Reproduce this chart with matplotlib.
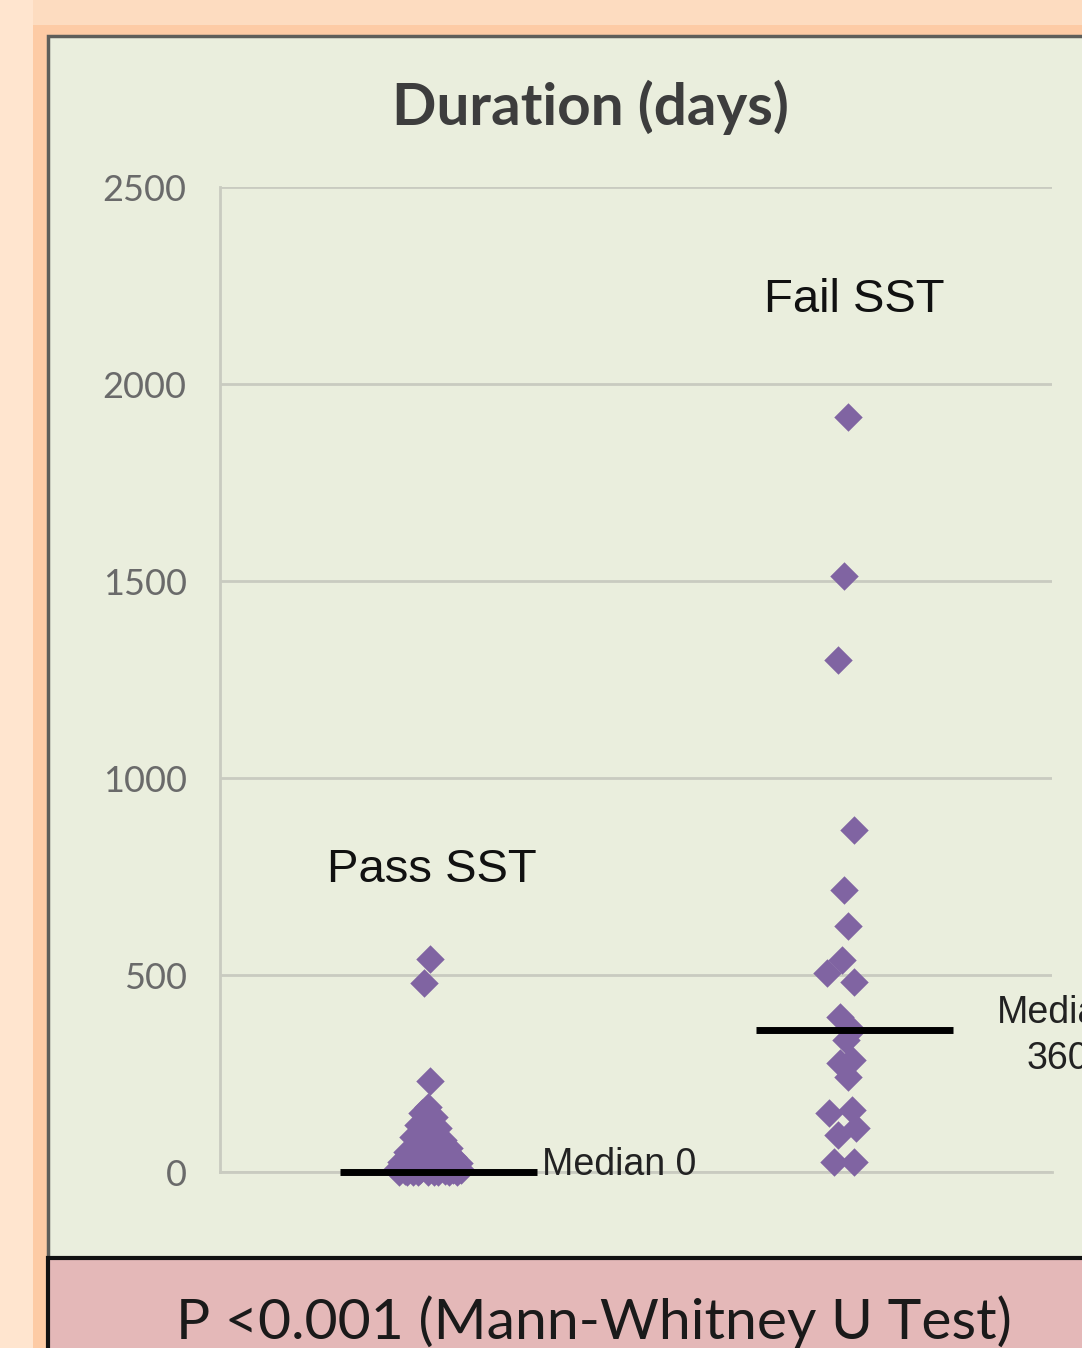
import matplotlib
matplotlib.use("Agg")
import matplotlib.pyplot as plt
from matplotlib.patches import Rectangle

# duration (days) per patient, split by SST outcome; jitter is horizontal spread in category units
pass_days = [540, 480, 230, 165, 150, 140, 128, 120, 112, 100, 95, 88, 80, 75, 68, 62, 58, 52, 48,
             42, 38, 35, 30, 26, 22, 20, 16, 12, 10, 8, 6, 5, 3, 2, 0, 0, 0, 0, 0, 0, 0, 1, 1, 4]
pass_jit = [0.01, -0.02, 0.01, 0.0, -0.03, 0.03, 0.0, -0.05, 0.05, -0.02, 0.03, -0.07, 0.07, 0.0,
            -0.04, 0.10, 0.04, -0.10, -0.02, 0.08, 0.12, -0.06, 0.02, -0.13, 0.15, 0.06, -0.09, 0.0,
            0.11, -0.15, 0.16, -0.04, 0.08, -0.11, 0.0, 0.05, -0.05, 0.10, -0.10, 0.14, -0.14, 0.03,
            -0.07, 0.12]
fail_days = [1915, 1512, 1300, 868, 716, 624, 538, 505, 482, 393, 360, 335, 284, 277, 241, 157,
             150, 112, 94, 25, 25]
fail_jit = [0.02, 0.0, -0.03, 0.05, 0.0, 0.02, -0.01, -0.08, 0.05, -0.02, 0.04, 0.01, 0.04, -0.02,
            0.02, 0.04, -0.07, 0.06, -0.03, -0.05, 0.05]
groups = ["Pass SST", "Fail SST"]
group_x = [1, 3]
medians = [0, 360]
yticks = [0, 500, 1000, 1500, 2000, 2500]

W, H = 1082, 1348
fig = plt.figure(figsize=(W / 100, H / 100), dpi=100)
fig.patch.set_facecolor("#fddcc0")

def box(x0, y0, x1, y1, **kw):
    # rectangle given in pixel coords from the top-left corner, drawn under the axes
    fig.add_artist(Rectangle((x0 / W, 1 - y1 / H), (x1 - x0) / W, (y1 - y0) / H,
                             transform=fig.transFigure, zorder=-5, **kw))

box(0, 0, 33, H, facecolor="#ffe5cf", edgecolor="none")
box(33, 25, W + 10, H + 10, facecolor="#fdcba5", edgecolor="none")
box(48, 36, W + 20, 1258, facecolor="#eaeedd", edgecolor="#5e5e5a", linewidth=2.5)
box(48, 1258, W + 20, H + 20, facecolor="#e4b8b8", edgecolor="#111111", linewidth=3)

ax = fig.add_axes([220 / W, 1 - 1172 / H, (1052 - 220) / W, (1172 - 187) / H])
ax.set_facecolor("none")
ax.set_xlim(0, 4)
ax.set_ylim(0, 2500)

ax.set_yticks(yticks)
ax.set_yticklabels([str(t) for t in yticks], family="Lato", fontsize=26, color="#6a6a6a")
ax.set_xticks([])
ax.tick_params(axis="y", length=0, pad=24)
ax.grid(axis="y", color="#c9cbc0", lw=2)
ax.set_axisbelow(True)
for s in ["top", "right"]:
    ax.spines[s].set_visible(False)
for s in ["left", "bottom"]:
    ax.spines[s].set_color("#c9cbc0")
    ax.spines[s].set_linewidth(2)

mk = dict(marker="D", s=210, color="#8064a2", linewidths=0, zorder=3, clip_on=False)
ax.scatter([group_x[0] + j for j in pass_jit], pass_days, **mk)
ax.scatter([group_x[1] + j for j in fail_jit], fail_days, **mk)

# median bars
for gx, m in zip(group_x, medians):
    ax.hlines(m, gx + 0.05 - 0.475, gx + 0.05 + 0.475, color="black", lw=5, zorder=4,
              clip_on=False)
ax.text(group_x[0] + 0.55, medians[0] + 18, f"Median {medians[0]}", family="Liberation Sans",
        fontsize=27, color="#222222", va="center", ha="left")
ax.text(group_x[1] + 1.03, medians[1] - 15, f"Median\n{medians[1]}", family="Liberation Sans",
        fontsize=27, color="#222222", va="center", ha="center", linespacing=1.35, clip_on=False)

ax.text(group_x[0] + 0.02, 766, groups[0], family="Liberation Sans", fontsize=34,
        color="#111111", ha="center", va="center")
ax.text(group_x[1] + 0.05, 2213, groups[1], family="Liberation Sans", fontsize=34,
        color="#111111", ha="center", va="center")

fig.text(590 / W, 1 - 107 / H, "Duration (days)", family="Lato", weight="bold", fontsize=42,
         color="#3d3d3d", ha="center", va="center")
fig.text(594 / W, 1 - 1322 / H, "P <0.001 (Mann-Whitney U Test)", family="Lato", fontsize=41,
         color="#1a1a1a", ha="center", va="center")

fig.savefig("out.png", dpi=100, facecolor=fig.get_facecolor())
